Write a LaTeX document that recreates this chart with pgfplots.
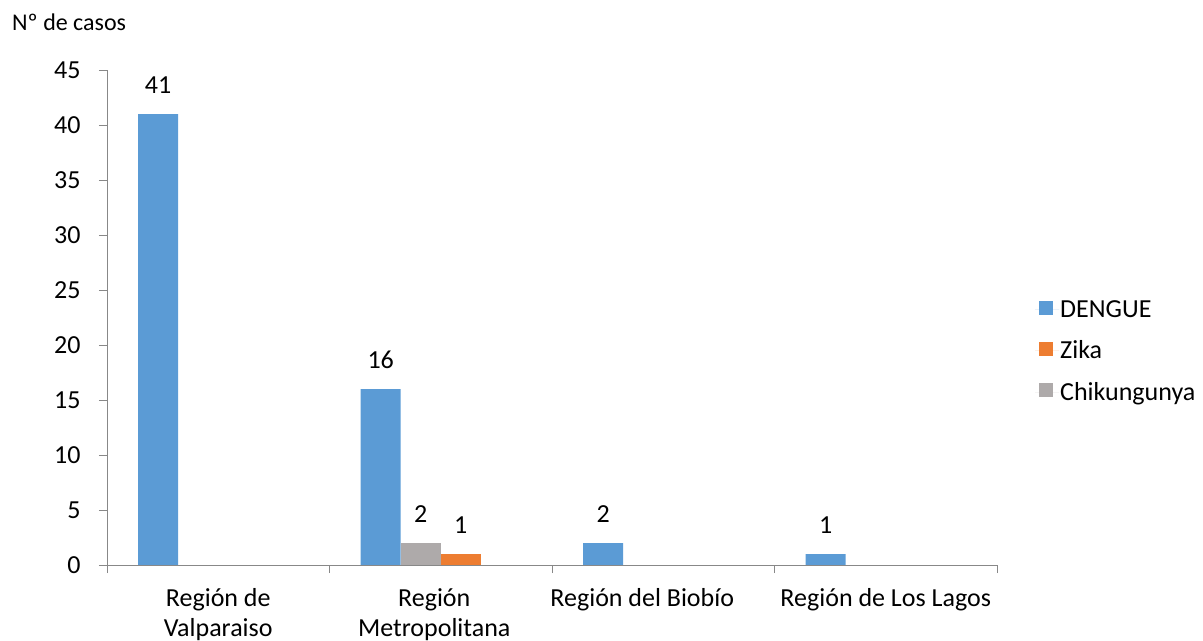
\documentclass[border=0pt]{standalone}
\usepackage{fontspec}
\setmainfont{Carlito}
\usepackage{pgfplots}
\pgfplotsset{compat=1.18}
\definecolor{dengue}{HTML}{5B9BD5}
\definecolor{zika}{HTML}{ED7D31}
\definecolor{chik}{HTML}{AEAAAA}
\definecolor{axgray}{HTML}{888888}
\newcommand{\lblfont}{\fontsize{26bp}{30bp}\selectfont}
\newcommand{\smfont}{\fontsize{24bp}{28bp}\selectfont}

\begin{document}
\begin{tikzpicture}
\path[use as bounding box] (0,0) rectangle (1203bp,641bp);
\node[anchor=base west, font=\smfont, inner sep=0pt] at (12bp,610bp) {Nº de casos};
\begin{axis}[
  at={(107bp,76bp)}, anchor=south west,
  scale only axis, width=890bp, height=495bp,
  xmin=-0.5, xmax=3.5, ymin=0, ymax=45,
  axis lines=left,
  axis line style={-, draw=axgray, line width=1bp},
  every outer x axis line/.append style={-},
  every outer y axis line/.append style={-},
  ytick={0,5,...,45},
  xtick={0,1,2,3},
  xticklabels={{Región de\\Valparaiso},
               {Región\hspace*{13bp}\\Metropolitana\hspace*{13bp}},
               {Región del Biobío\hspace*{42bp}},
               {Región de Los Lagos}},
  minor xtick={-0.5,0.5,1.5,2.5,3.5},
  major x tick style={draw=none},
  tick align=outside,
  major tick length=8bp, minor tick length=8bp,
  tick style={draw=axgray, line width=1bp},
  ticklabel style={font=\lblfont},
  yticklabel style={xshift=-15bp},
  xticklabel style={align=center, yshift=-12bp},
  /pgf/number format/assume math mode=true,
  ybar, bar width=0.18,
  nodes near coords,
  every node near coord/.append style={font=\lblfont, text=black, anchor=south, inner sep=0pt, yshift=20bp},
  legend style={draw=none, fill=none, at={(1.0427,0.432)}, anchor=west,
    font=\lblfont, row sep=20bp, inner sep=0pt,
    nodes={inner sep=1bp}},
  legend cell align=left,
  legend image code/.code={%
    \fill[#1] (4bp,-5bp) rectangle (18bp,9bp);
    \path (0bp,0bp) -- (24bp,0bp);},
]
\addplot[fill=dengue, draw=none, bar shift=-0.27] coordinates {(0,41) (1,16) (2,2) (3,1)};
\addlegendentry{DENGUE}
\addplot[fill=zika, draw=none, bar shift=0.09] coordinates {(1,1)};
\addlegendentry{Zika}
\addplot[fill=chik, draw=none, bar shift=-0.09] coordinates {(1,2)};
\addlegendentry{Chikungunya}
\end{axis}
\end{tikzpicture}
\end{document}
